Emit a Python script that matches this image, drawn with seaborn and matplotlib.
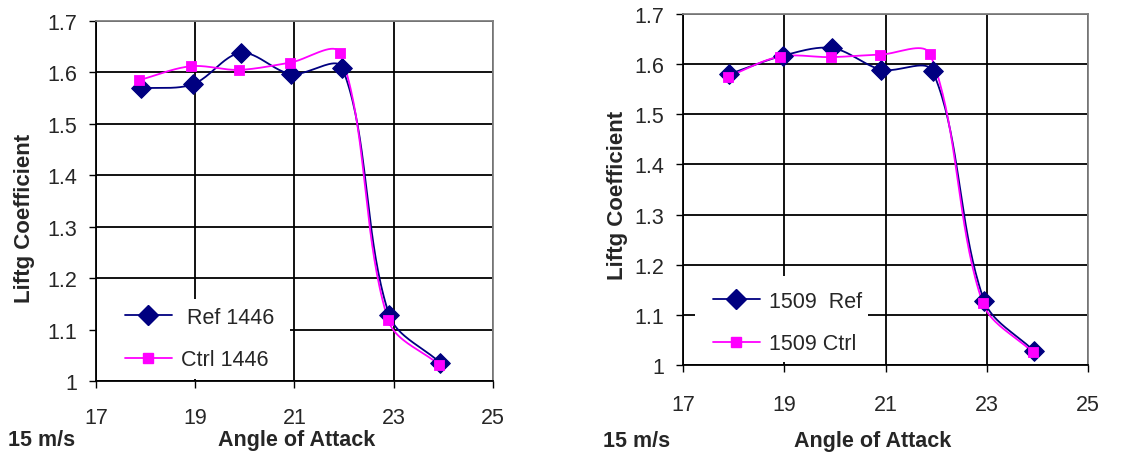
import numpy as np
import pandas as pd
import matplotlib
matplotlib.use("Agg")
import matplotlib.pyplot as plt
from matplotlib.lines import Line2D
from matplotlib.patches import Rectangle
import seaborn as sns

# data
aoa_ref_1446 = [17.90, 18.95, 19.92, 20.93, 21.96, 22.91, 23.94]
cl_ref_1446 = [1.569, 1.577, 1.638, 1.597, 1.609, 1.128, 1.035]
aoa_ctrl_1446 = [17.87, 18.91, 19.88, 20.91, 21.92, 22.89, 23.92]
cl_ctrl_1446 = [1.585, 1.612, 1.605, 1.619, 1.637, 1.118, 1.031]

aoa_ref_1509 = [17.91, 18.98, 19.95, 20.92, 21.93, 22.95, 23.94]
cl_ref_1509 = [1.580, 1.617, 1.632, 1.589, 1.586, 1.128, 1.027]
aoa_ctrl_1509 = [17.89, 18.91, 19.92, 20.90, 21.88, 22.92, 23.91]
cl_ctrl_1509 = [1.575, 1.615, 1.614, 1.619, 1.620, 1.124, 1.025]

x_ticks = [17, 19, 21, 23, 25]
y_ticks = [1.0, 1.1, 1.2, 1.3, 1.4, 1.5, 1.6, 1.7]
y_tick_labels = ["1", "1.1", "1.2", "1.3", "1.4", "1.5", "1.6", "1.7"]

NAVY = "#000080"
MAGENTA = "#FF00FF"


def smooth(xs, ys, sx, sy, n=40):
    # Excel-like smoothed line: bezier through the points, tangents split
    # by the screen length of the neighbouring segments
    p = np.column_stack([xs, ys]).astype(float)
    scr = p * [sx, sy]
    m = len(p)
    d = np.hypot(*np.diff(scr, axis=0).T)
    c_out, c_in = [], []
    for i in range(m):
        a = p[max(i - 1, 0)]
        b = p[min(i + 1, m - 1)]
        tang = b - a
        d_prev = d[i - 1] if i > 0 else 0.0
        d_next = d[i] if i < m - 1 else 0.0
        tot = d_prev + d_next
        c_out.append(p[i] + tang * (d_next / tot) / 3)
        c_in.append(p[i] - tang * (d_prev / tot) / 3)
    t = np.linspace(0, 1, n)[:, None]
    segs = []
    for i in range(m - 1):
        p1, c1, c2, p2 = p[i], c_out[i], c_in[i + 1], p[i + 1]
        segs.append((1 - t) ** 3 * p1 + 3 * (1 - t) ** 2 * t * c1
                    + 3 * (1 - t) * t ** 2 * c2 + t ** 3 * p2)
    out = np.vstack(segs)
    return pd.DataFrame({"x": out[:, 0], "y": out[:, 1]})


sns.set_theme(style="white")
plt.rcParams["font.family"] = ["Liberation Sans", "DejaVu Sans"]

fig = plt.figure(figsize=(11.48, 4.56), dpi=100)
ax1 = fig.add_axes([96 / 1148, 1 - 382 / 456, 397 / 1148, 360 / 456])
ax2 = fig.add_axes([683 / 1148, 1 - 366 / 456, 405 / 1148, 351 / 456])

panels = [
    (ax1, 397, 360, aoa_ref_1446, cl_ref_1446, aoa_ctrl_1446, cl_ctrl_1446,
     [" Ref 1446", "Ctrl 1446"], 13.7, (0.045, 0.0),
     (0.003, 0.005, 0.486, 0.223)),
    (ax2, 405, 351, aoa_ref_1509, cl_ref_1509, aoa_ctrl_1509, cl_ctrl_1509,
     ["1509  Ref", "1509 Ctrl"], 15.9, (0.047, 0.0),
     (0.03, 0.009, 0.427, 0.245)),
]

for ax, wpx, hpx, xr, yr, xc, yc, labels, xpad, anchor, box in panels:
    ax.set_facecolor("white")
    sx, sy = wpx / 8.0, hpx / 0.7
    sr = smooth(xr, yr, sx, sy)
    sc = smooth(xc, yc, sx, sy)
    ax.plot(sr["x"], sr["y"], color=NAVY, lw=1.3, zorder=3)
    ax.plot(sc["x"], sc["y"], color=MAGENTA, lw=1.3, zorder=3)
    sns.scatterplot(x=xr, y=yr, ax=ax, marker="D", s=100, color=NAVY,
                    edgecolor=NAVY, zorder=4)
    sns.scatterplot(x=xc, y=yc, ax=ax, marker="s", s=55, color=MAGENTA,
                    edgecolor=MAGENTA, zorder=5)

    ax.set_xlim(17, 25)
    ax.set_ylim(1.0, 1.7)
    ax.set_xticks(x_ticks)
    ax.set_yticks(y_ticks)
    ax.set_yticklabels(y_tick_labels)
    ax.grid(True, color="black", lw=1.3)
    ax.set_axisbelow(True)
    ax.tick_params(axis="both", labelsize=15.5, length=5, width=1.0,
                   color="black", direction="out", left=True, bottom=True)
    ax.tick_params(axis="y", pad=8.5)
    ax.tick_params(axis="x", pad=xpad)
    for side in ["top", "right"]:
        ax.spines[side].set_color("#808080")
        ax.spines[side].set_linewidth(1.3)
    for side in ["left", "bottom"]:
        ax.spines[side].set_color("black")
        ax.spines[side].set_linewidth(1.3)

    # white area behind the legend, as in the reference
    ax.add_patch(Rectangle(box[:2], box[2], box[3], transform=ax.transAxes,
                           facecolor="white", edgecolor="none", zorder=2))

    handles = [
        Line2D([], [], color=NAVY, lw=1.3, marker="D", ms=10),
        Line2D([], [], color=MAGENTA, lw=1.3, marker="s", ms=7.5),
    ]
    leg = ax.legend(handles, labels, loc="lower left", bbox_to_anchor=anchor,
                    fontsize=15.5, frameon=False, borderpad=0.4,
                    borderaxespad=0.1, handlelength=2.2, handletextpad=0.4,
                    labelspacing=1.0)
    leg.set_zorder(6)
    ax.set_xlabel("")
    ax.set_ylabel("")

# axis titles and speed note
fig.text(25 / 1148, 1 - 218 / 456, "Liftg Coefficient", rotation=90,
         ha="center", va="center", fontsize=16, fontweight="bold")
fig.text(618 / 1148, 1 - 195 / 456, "Liftg Coefficient", rotation=90,
         ha="center", va="center", fontsize=16, fontweight="bold")
fig.text(297 / 1148, 1 - 441 / 456, "Angle of Attack", ha="center",
         va="center", fontsize=15.5, fontweight="bold")
fig.text(873 / 1148, 1 - 442 / 456, "Angle of Attack", ha="center",
         va="center", fontsize=15.5, fontweight="bold")
fig.text(8 / 1148, 1 - 441 / 456, "15 m/s", ha="left", va="center",
         fontsize=15.5, fontweight="bold")
fig.text(603 / 1148, 1 - 442 / 456, "15 m/s", ha="left", va="center",
         fontsize=15.5, fontweight="bold")

fig.savefig("out.png", dpi=100, facecolor="white")
